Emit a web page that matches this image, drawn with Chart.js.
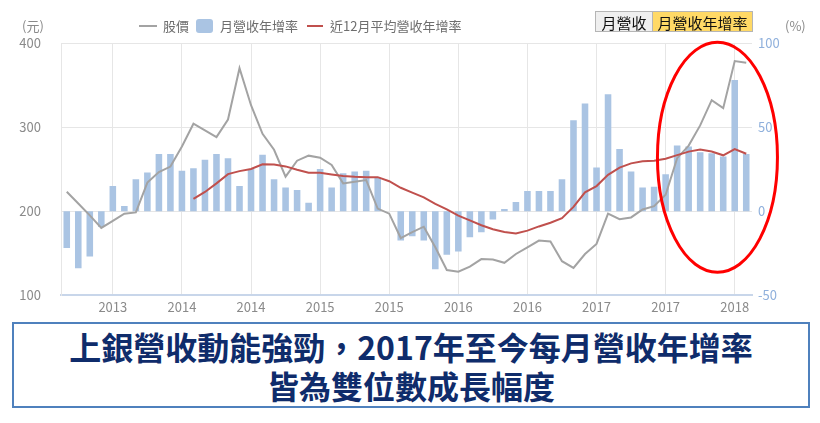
<!DOCTYPE html>
<html>
<head>
<meta charset="utf-8">
<script src="https://cdn.jsdelivr.net/npm/chart.js@4.4.0/dist/chart.umd.min.js"></script>
<style>
  body { margin: 0; background: #fff; font-family: 'Noto Sans CJK TC', 'Noto Sans', sans-serif; }
  #wrap { position: relative; width: 820px; height: 423px; overflow: hidden; }
  #chartBox { position: absolute; left: 0; top: 0; width: 820px; height: 323px; }
  .unit { position: absolute; top: 16px; font-size: 13px; color: #8a8a8a; }
  .lg { position: absolute; font-size: 13px; color: #6e6e6e; top: 17px; line-height: 18px; }
  .lgLine { position: absolute; height: 2px; top: 25px; }
  .lgBox { position: absolute; top: 19px; width: 17px; height: 14px; border-radius: 3px; background: #aac4e3; }
  .btn { position: absolute; top: 11px; height: 21px; line-height: 21px; font-size: 15px; color: #111;
         text-align: center; box-sizing: border-box; border: 1px solid #b5b5b5; }
  #caption { position: absolute; left: 12px; top: 322px; width: 798px; height: 86px; box-sizing: border-box;
             border: 2px solid #4f81bd; text-align: center; font-weight: 700; font-size: 32px;
             color: #0f2c6b; line-height: 39px; padding-top: 3px; background: #fff; }
</style>
</head>
<body>
<div id="wrap">
  <div id="chartBox"><canvas id="revChart" width="820" height="323"></canvas></div>
  <div class="unit" style="left:22px;">(元)</div>
  <div class="unit" style="left:785px;">(%)</div>

  <div class="lgLine" style="left:139px;width:18px;background:#a3a3a3;"></div>
  <div class="lg" style="left:163px;">股價</div>
  <div class="lgBox" style="left:196px;"></div>
  <div class="lg" style="left:220px;">月營收年增率</div>
  <div class="lgLine" style="left:307px;width:16px;background:#c0504d;"></div>
  <div class="lg" style="left:330px;">近12月平均營收年增率</div>

  <div class="btn" style="left:595px;width:58px;background:#efefef;">月營收</div>
  <div class="btn" style="left:652px;width:101px;background:#ffd966;">月營收年增率</div>

  <div id="caption">上銀營收動能強勁，2017年至今每月營收年增率<br>皆為雙位數成長幅度</div>
</div>

<script>
// months shown on the x axis (one bar per month)
const months = [
    '2013-03','2013-04','2013-05','2013-06','2013-07','2013-08','2013-09','2013-10','2013-11','2013-12',
    '2014-01','2014-02','2014-03','2014-04','2014-05','2014-06','2014-07','2014-08','2014-09','2014-10','2014-11','2014-12',
    '2015-01','2015-02','2015-03','2015-04','2015-05','2015-06','2015-07','2015-08','2015-09','2015-10','2015-11','2015-12',
    '2016-01','2016-02','2016-03','2016-04','2016-05','2016-06','2016-07','2016-08','2016-09','2016-10','2016-11','2016-12',
    '2017-01','2017-02','2017-03','2017-04','2017-05','2017-06','2017-07','2017-08','2017-09','2017-10','2017-11','2017-12',
    '2018-01','2018-02'
];

// 月營收年增率 (%)
const revenueYoY = [
    -22, -34, -27, -9.5, 15, 3, 19, 23, 34, 34,
    24, 25.5, 30.5, 34, 31.5, 15, 25, 33.5, 19, 14, 12.5, 5,
    25, 14, 22.5, 23.5, 24, 20, 0, -17.5, -15, -17.5, -34.5, -26,
    -24, -15.5, -12.5, -5, 1.2, 5.5, 12, 12, 12, 19, 54, 64,
    26, 69.5, 37, 23.5, 14, 14.5, 22, 39, 38.5, 35, 34.5, 32.5,
    78, 34
];

// 股價 (元)
const stockPrice = [
    223, 209, 195, 180, 188.5, 197, 198.5, 234, 246.5, 253,
    277, 304, 296, 288, 309, 370, 326, 292, 273, 241, 260, 266,
    263.5, 255, 233, 235, 237, 203, 197, 168, 175, 181.5, 157, 130,
    128, 134, 143, 142.5, 138.5, 149, 157, 165, 164, 140.5, 132.5, 149,
    161, 197, 190.5, 192.5, 202, 206, 219.5, 263, 278, 302, 332, 322.5,
    378.5, 376.5
];

// 近12月平均營收年增率 (%)
const avgYoY12 = [
    null, null, null, null, null, null, null, null, null, null,
    null, 7.3, 11.4, 16.5, 22, 23.8, 25.1, 27.9, 27.8, 26.6, 24.6, 22.8,
    22.8, 21.8, 20.9, 20.4, 20.2, 20.2, 17.8, 13.9, 11, 8.2, 4.3, 1.1,
    -2.7, -5.5, -8.4, -10.8, -12.4, -13.3, -11.6, -9.1, -6.9, -4.2, 2.5, 11.2,
    14.9, 21.6, 25.9, 28.4, 29.6, 30, 31.2, 33.3, 35.4, 36.6, 35.5, 33.2,
    36.9, 34.1
];

const priceTicks = [100, 200, 300, 400];
const pctTicks = [-50, 0, 50, 100];

// red circle drawn around the last year
const highlightRing = {
    id: 'highlightRing',
    afterDatasetsDraw(chart) {
        const { ctx, scales } = chart;
        const cx = scales.x.getPixelForValue(56.5);
        const cy = scales.y.getPixelForValue(264);
        ctx.save();
        ctx.beginPath();
        ctx.ellipse(cx, cy, 60, 115, 0, 0, Math.PI * 2);
        ctx.strokeStyle = '#ff0000';
        ctx.lineWidth = 3;
        ctx.stroke();
        ctx.restore();
    }
};

const tickFont = { family: "'Noto Sans CJK TC', 'Noto Sans', sans-serif", size: 13 };

new Chart(document.getElementById('revChart').getContext('2d'), {
    data: {
        labels: months,
        datasets: [
            {
                type: 'line',
                label: '近12月平均營收年增率',
                data: avgYoY12,
                yAxisID: 'y1',
                borderColor: '#c0504d',
                borderWidth: 2,
                pointRadius: 0,
                tension: 0,
                order: 0
            },
            {
                type: 'line',
                label: '股價',
                data: stockPrice,
                yAxisID: 'y',
                borderColor: '#a3a3a3',
                borderWidth: 2,
                pointRadius: 0,
                tension: 0,
                order: 1
            },
            {
                type: 'bar',
                label: '月營收年增率',
                data: revenueYoY,
                yAxisID: 'y1',
                backgroundColor: '#aac4e3',
                categoryPercentage: 1,
                barPercentage: 0.57,
                order: 2
            }
        ]
    },
    options: {
        responsive: false,
        animation: false,
        devicePixelRatio: 1,
        layout: { padding: { top: 43, left: 0, right: 0, bottom: 0 } },
        plugins: { legend: { display: false }, tooltip: { enabled: false } },
        scales: {
            x: {
                offset: true,
                grid: { offset: false, color: '#e6e6e6', drawTicks: false },
                border: { color: '#c8d6ea', width: 2 },
                ticks: {
                    autoSkip: false,
                    maxRotation: 0,
                    padding: 4,
                    color: '#8a8a8a',
                    font: tickFont,
                    callback: function (val, idx) {
                        const [yr, mo] = months[idx].split('-');
                        return (mo === '01' || mo === '07') ? yr : null;
                    }
                },
                afterFit(scale) { scale.height = 23; }
            },
            y: {
                position: 'left',
                min: 100,
                max: 400,
                afterBuildTicks(scale) { scale.ticks = priceTicks.map(v => ({ value: v })); },
                grid: { color: '#e6e6e6', drawTicks: false },
                border: { color: '#e6e6e6' },
                ticks: { color: '#8a8a8a', font: tickFont, padding: 20 },
                afterFit(scale) { scale.width = 61; }
            },
            y1: {
                position: 'right',
                min: -50,
                max: 100,
                afterBuildTicks(scale) { scale.ticks = pctTicks.map(v => ({ value: v })); },
                grid: { display: false, drawTicks: false },
                border: { display: false },
                ticks: { color: '#8fb0dc', font: tickFont, padding: 6 },
                afterFit(scale) { scale.width = 68; }
            }
        }
    },
    plugins: [highlightRing]
});
</script>
</body>
</html>
